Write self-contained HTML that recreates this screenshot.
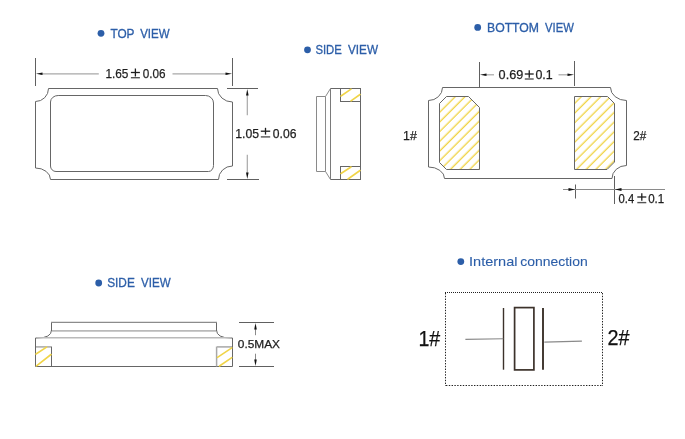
<!DOCTYPE html>
<html><head><meta charset="utf-8">
<style>
html,body{margin:0;padding:0;background:#fff;width:685px;height:439px;overflow:hidden}
svg{display:block;will-change:transform}
text{font-family:"Liberation Sans",sans-serif}
</style></head><body>
<svg width="685" height="439" viewBox="0 0 685 439">
<defs>
<pattern id="h45" patternUnits="userSpaceOnUse" width="6.859" height="6.859" patternTransform="rotate(45)">
<rect x="5.5" y="0" width="1.6" height="6.859" fill="#f0d448"/>
</pattern>
</defs>
<g fill="#2c5ea8">
<circle cx="101" cy="33.3" r="3.4"/>
<circle cx="307.5" cy="49.8" r="3.4"/>
<circle cx="477.7" cy="27.4" r="3.4"/>
<circle cx="98.7" cy="283" r="3.4"/>
<circle cx="460.8" cy="261.6" r="3.4"/>
</g>
<!-- ============ TOP VIEW ============ -->
<g fill="none" stroke="#666666" stroke-width="1">
<path d="M48.5,88.5 H217.5 A15,13.5 0 0 0 232.5,102 V166 A14,13.5 0 0 0 218.5,179.5 H50.5 A15,11.5 0 0 0 35.5,168 V101.5 A13,13 0 0 0 48.5,88.5 Z"/>
<path d="M58.2,95.5 H205.5 A8,7.5 0 0 1 213.5,103 V165.5 A5,6 0 0 1 208.5,171.5 H56 A5.5,5.5 0 0 1 50.5,166 V102 A7.7,6.5 0 0 1 58.2,95.5 Z"/>
</g>
<g stroke="#606060" stroke-width="1">
<line x1="35.5" y1="58" x2="35.5" y2="86"/>
<line x1="232.5" y1="58" x2="232.5" y2="86"/>
<line x1="227" y1="88.5" x2="258" y2="88.5"/>
<line x1="227" y1="179.5" x2="259" y2="179.5"/>
</g>
<g stroke="#a8a8a8" stroke-width="1.2">
<line x1="40" y1="73.8" x2="98.8" y2="73.8"/>
<line x1="172.5" y1="73.8" x2="228" y2="73.8"/>
<line x1="247.3" y1="94" x2="247.3" y2="115.3"/>
<line x1="247.3" y1="154.8" x2="247.3" y2="175"/>
</g>
<g fill="#111">
<path d="M36,73.8 L42.5,72.5 L42.5,75.1 Z"/>
<path d="M232,73.8 L225.5,72.5 L225.5,75.1 Z"/>
<path d="M247.3,89 L246,95.5 L248.6,95.5 Z"/>
<path d="M247.3,179 L246,172.5 L248.6,172.5 Z"/>
</g>

<!-- ============ SIDE VIEW (top) ============ -->
<g fill="none" stroke="#666666" stroke-width="1">
<path d="M330.5,88.5 H360.5 V179.5 H330.5"/>
<line x1="330.5" y1="88.5" x2="330.5" y2="179.5" stroke="#7a7a7a"/>
<path d="M330.5,88.5 L325.5,96.5 H316.5 V171.5 H325.5 L330.5,179.5" stroke="#8a8a8a"/>
<line x1="325.5" y1="96.5" x2="325.5" y2="171.5" stroke="#8a8a8a"/>
<rect x="340.5" y="88.5" width="20" height="13"/>
<rect x="340.5" y="166.5" width="20" height="13"/>
</g>
<g stroke="#f0d448" stroke-width="1.6" stroke-linecap="round">
<line x1="341" y1="96" x2="351" y2="89.2"/>
<line x1="351" y1="100.8" x2="360" y2="94.5"/>
<line x1="341" y1="173.5" x2="351" y2="167"/>
<line x1="348" y1="179" x2="360" y2="170.5"/>
</g>

<!-- ============ BOTTOM VIEW ============ -->
<g fill="none" stroke="#666666" stroke-width="1">
<path d="M442.5,87.5 H610.5 A16,13 0 0 0 626.5,100.5 V165.5 A14.5,13 0 0 0 612,178.5 H444.5 A16,11.5 0 0 0 428.5,167 V100.5 A14,13 0 0 0 442.5,87.5 Z"/>
</g>
<g>
<path d="M446.5,96.5 H468.5 L479.5,107.5 V169.5 H446.5 L439.5,162.5 V103.5 Z" fill="url(#h45)" stroke="#666666" stroke-width="1"/>
<path d="M574.5,96.5 H607.5 L614.5,103.5 V162 L607,169.5 H574.5 Z" fill="url(#h45)" stroke="#666666" stroke-width="1"/>
</g>
<g stroke="#606060" stroke-width="1">
<line x1="479.5" y1="62" x2="479.5" y2="87.5"/>
<line x1="574.5" y1="61" x2="574.5" y2="86"/>
<line x1="614.5" y1="176" x2="614.5" y2="204"/>
<line x1="575.5" y1="184.5" x2="575.5" y2="198.5"/>
</g>
<g stroke="#a8a8a8" stroke-width="1.2">
<line x1="484" y1="74.8" x2="494" y2="74.8"/>
<line x1="558.5" y1="74.8" x2="570" y2="74.8"/>
</g>
<g stroke="#8a8a8a" stroke-width="1">
<line x1="563" y1="189.5" x2="665" y2="189.5"/>
</g>
<g fill="#111">
<path d="M480,74.8 L486.5,73.5 L486.5,76.1 Z"/>
<path d="M574,74.8 L567.5,73.5 L567.5,76.1 Z"/>
<path d="M575,189.5 L568.5,188 L568.5,191 Z"/>
<path d="M615,189.5 L621.5,188 L621.5,191 Z"/>
</g>

<!-- ============ SIDE VIEW (bottom) ============ -->
<g fill="none" stroke="#666666" stroke-width="1">
<path d="M51.5,331 V322.5 M216.5,322.5 V331"/>
<line x1="51" y1="322.3" x2="217" y2="322.3" stroke="#8c8c8c" stroke-width="1.3"/>
<path d="M51.5,330 Q51.5,338 37,338 H35.5 V366.5 H232.5 V338 H231 Q216.5,338 216.5,330"/>
<path d="M51.5,346.5 V366.5"/>
<path d="M216.6,346.5 V366.5" stroke="#a8a8a8" stroke-width="1.5"/>
<path d="M36,346.8 H51 M217,346.8 H232" stroke="#b4b4b4" stroke-width="1.7"/>
</g>
<g stroke="#bababa" stroke-width="1.6">
<line x1="52" y1="330.9" x2="216" y2="330.9"/>
<line x1="37" y1="337.8" x2="231" y2="337.8"/>
</g>
<g stroke="#f0d448" stroke-width="1.6" stroke-linecap="round">
<line x1="36" y1="354" x2="46.6" y2="347.2"/>
<line x1="36.5" y1="365.8" x2="51" y2="354.5"/>
<line x1="217.5" y1="357.4" x2="231.8" y2="347.9"/>
<line x1="219.5" y1="366" x2="231.8" y2="357.7"/>
</g>
<g stroke="#606060" stroke-width="1">
<line x1="239" y1="322.5" x2="274" y2="322.5"/>
<line x1="239" y1="366.5" x2="274" y2="366.5"/>
<line x1="255.5" y1="327" x2="255.5" y2="335.2" stroke="#8a8a8a"/>
<line x1="255.5" y1="353.7" x2="255.5" y2="362" stroke="#8a8a8a"/>
</g>
<g fill="#111">
<path d="M255.5,323 L254.2,329.5 L256.8,329.5 Z"/>
<path d="M255.5,366 L254.2,359.5 L256.8,359.5 Z"/>
</g>

<!-- ============ INTERNAL CONNECTION ============ -->
<g fill="none" stroke="#222" stroke-width="1">
<line x1="445" y1="292.5" x2="603" y2="292.5" stroke-dasharray="1 1"/>
<line x1="445.5" y1="293" x2="445.5" y2="386" stroke-dasharray="1.4 1.4"/>
<line x1="602.5" y1="293" x2="602.5" y2="386" stroke-dasharray="1.4 1.4"/>
<line x1="446" y1="385.5" x2="603" y2="385.5" stroke-dasharray="1.4 1.4"/>
</g>
<g stroke="#3c322b" fill="none">
<line x1="503.5" y1="308" x2="503.5" y2="369.7" stroke-width="1.4"/>
<line x1="543" y1="308" x2="543" y2="369.7" stroke-width="1.9"/>
<rect x="514.6" y="307.6" width="19.3" height="62.3" stroke-width="1.7"/>
</g>
<g stroke="#8a8a8a" stroke-width="1.1">
<line x1="465.4" y1="339.4" x2="503.3" y2="338.8"/>
<line x1="544.3" y1="342.1" x2="581.9" y2="341.1"/>
</g>

<line x1="130.90" y1="72.50" x2="139.90" y2="72.50" stroke="#1e1e1e" stroke-width="1.3"/><line x1="135.40" y1="68.50" x2="135.40" y2="76.50" stroke="#1e1e1e" stroke-width="1.3"/><line x1="130.90" y1="77.70" x2="139.90" y2="77.70" stroke="#555" stroke-width="1.4"/>
<line x1="260.80" y1="131.20" x2="270.20" y2="131.20" stroke="#1e1e1e" stroke-width="1.3"/><line x1="265.50" y1="127.80" x2="265.50" y2="134.60" stroke="#1e1e1e" stroke-width="1.3"/><line x1="260.80" y1="136.90" x2="270.20" y2="136.90" stroke="#555" stroke-width="1.4"/>
<line x1="524.80" y1="74.00" x2="533.70" y2="74.00" stroke="#1e1e1e" stroke-width="1.3"/><line x1="529.25" y1="70.30" x2="529.25" y2="77.70" stroke="#1e1e1e" stroke-width="1.3"/><line x1="524.80" y1="79.00" x2="533.70" y2="79.00" stroke="#555" stroke-width="1.4"/>
<line x1="637.30" y1="197.00" x2="646.30" y2="197.00" stroke="#1e1e1e" stroke-width="1.3"/><line x1="641.80" y1="193.30" x2="641.80" y2="200.70" stroke="#1e1e1e" stroke-width="1.3"/><line x1="637.30" y1="202.60" x2="646.30" y2="202.60" stroke="#555" stroke-width="1.4"/>

<text x="110.40" y="38.20" font-size="12.295" fill="#2c5ea8" stroke="#2c5ea8" stroke-width="0.3" textLength="24.02" lengthAdjust="spacingAndGlyphs">TOP</text>
<text x="140.20" y="38.20" font-size="12.295" fill="#2c5ea8" stroke="#2c5ea8" stroke-width="0.3" textLength="29.41" lengthAdjust="spacingAndGlyphs">VIEW</text>
<text x="315.40" y="54.20" font-size="12.630" fill="#2c5ea8" stroke="#2c5ea8" stroke-width="0.3" textLength="26.44" lengthAdjust="spacingAndGlyphs">SIDE</text>
<text x="348.00" y="54.20" font-size="12.630" fill="#2c5ea8" stroke="#2c5ea8" stroke-width="0.3" textLength="30.00" lengthAdjust="spacingAndGlyphs">VIEW</text>
<text x="487.00" y="32.00" font-size="12.630" fill="#2c5ea8" stroke="#2c5ea8" stroke-width="0.3" textLength="52.05" lengthAdjust="spacingAndGlyphs">BOTTOM</text>
<text x="545.00" y="32.00" font-size="12.630" fill="#2c5ea8" stroke="#2c5ea8" stroke-width="0.3" textLength="28.81" lengthAdjust="spacingAndGlyphs">VIEW</text>
<text x="107.20" y="287.20" font-size="12.857" fill="#2c5ea8" stroke="#2c5ea8" stroke-width="0.3" textLength="27.64" lengthAdjust="spacingAndGlyphs">SIDE</text>
<text x="141.00" y="287.20" font-size="12.857" fill="#2c5ea8" stroke="#2c5ea8" stroke-width="0.3" textLength="29.60" lengthAdjust="spacingAndGlyphs">VIEW</text>
<text x="469.00" y="265.60" font-size="13.618" fill="#2c5ea8" stroke="#2c5ea8" stroke-width="0.1" textLength="48.51" lengthAdjust="spacingAndGlyphs">Internal</text>
<text x="520.20" y="265.60" font-size="13.618" fill="#2c5ea8" stroke="#2c5ea8" stroke-width="0.1" textLength="67.45" lengthAdjust="spacingAndGlyphs">connection</text>
<text x="105.40" y="78.40" font-size="13.193" fill="#1e1e1e" stroke="#1e1e1e" stroke-width="0.25" textLength="23.05" lengthAdjust="spacingAndGlyphs">1.65</text>
<text x="142.80" y="78.40" font-size="13.193" fill="#1e1e1e" stroke="#1e1e1e" stroke-width="0.25" textLength="22.86" lengthAdjust="spacingAndGlyphs">0.06</text>
<text x="235.20" y="137.60" font-size="12.295" fill="#1e1e1e" stroke="#1e1e1e" stroke-width="0.25" textLength="23.81" lengthAdjust="spacingAndGlyphs">1.05</text>
<text x="272.80" y="137.60" font-size="12.295" fill="#1e1e1e" stroke="#1e1e1e" stroke-width="0.25" textLength="23.63" lengthAdjust="spacingAndGlyphs">0.06</text>
<text x="498.60" y="78.80" font-size="12.630" fill="#1e1e1e" stroke="#1e1e1e" stroke-width="0.25" textLength="24.63" lengthAdjust="spacingAndGlyphs">0.69</text>
<text x="535.40" y="78.80" font-size="12.630" fill="#1e1e1e" stroke="#1e1e1e" stroke-width="0.25" textLength="17.29" lengthAdjust="spacingAndGlyphs">0.1</text>
<text x="618.60" y="202.80" font-size="12.059" fill="#1e1e1e" stroke="#1e1e1e" stroke-width="0.25" textLength="15.62" lengthAdjust="spacingAndGlyphs">0.4</text>
<text x="648.20" y="202.80" font-size="12.059" fill="#1e1e1e" stroke="#1e1e1e" stroke-width="0.25" textLength="16.06" lengthAdjust="spacingAndGlyphs">0.1</text>
<text x="237.80" y="347.80" font-size="10.676" fill="#1e1e1e" stroke="#1e1e1e" stroke-width="0.25" textLength="42.21" lengthAdjust="spacingAndGlyphs">0.5MAX</text>
<text x="403.00" y="140.00" font-size="12.857" fill="#1e1e1e" stroke="#1e1e1e" stroke-width="0.25" textLength="13.82" lengthAdjust="spacingAndGlyphs">1#</text>
<text x="633.20" y="140.00" font-size="12.635" fill="#1e1e1e" stroke="#1e1e1e" stroke-width="0.25" textLength="13.04" lengthAdjust="spacingAndGlyphs">2#</text>
<text x="418.40" y="346.20" font-size="22.006" fill="#111111" stroke="#111111" stroke-width="0.25" textLength="21.86" lengthAdjust="spacingAndGlyphs">1#</text>
<text x="607.40" y="344.80" font-size="22.006" fill="#111111" stroke="#111111" stroke-width="0.25" textLength="22.05" lengthAdjust="spacingAndGlyphs">2#</text>

</svg>
</body></html>
